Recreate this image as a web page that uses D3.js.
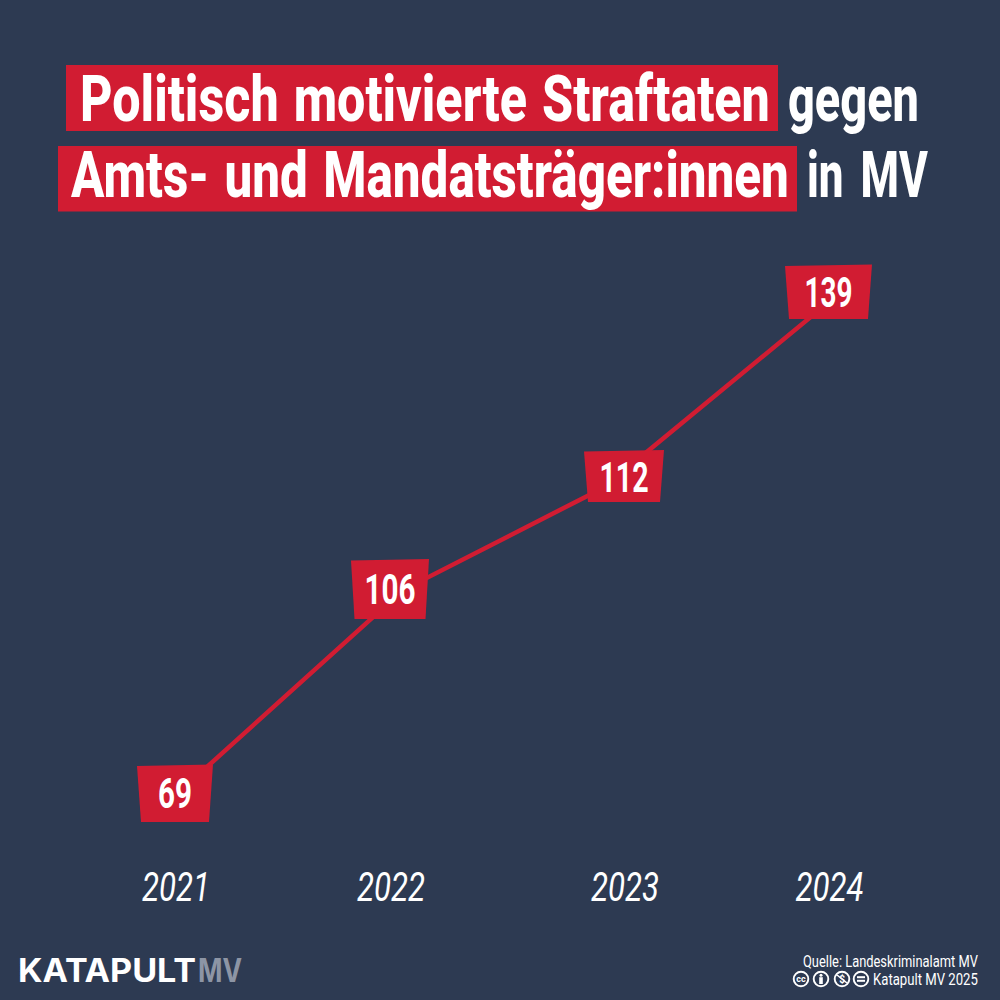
<!DOCTYPE html>
<html><head><meta charset="utf-8">
<script src="https://cdnjs.cloudflare.com/ajax/libs/d3/7.8.5/d3.min.js"></script>
<style>html,body{margin:0;padding:0;background:#2d3a52}svg{display:block}</style>
</head><body>
<svg id="c" width="1000" height="1000"></svg>
<script>
const years = [2021, 2022, 2023, 2024];
const values = [69, 106, 112, 139];
const yearLabels = ["2021", "2022", "2023", "2024"];
const titleHighlight1 = "Politisch motivierte Straftaten";
const titlePlain1 = "gegen";
const titleHighlight2 = "Amts- und Mandatsträger:innen";
const titlePlain2 = "in MV";
const sourceLine = "Quelle: Landeskriminalamt MV";
const creditLine = "Katapult MV 2025";

const BG = "#2d3a52", RED = "#d11c32", W = "#ffffff", F = "Roboto, sans-serif";
const svg = d3.select("#c");
svg.append("rect").attr("width",1000).attr("height",1000).attr("fill",BG);

// The reference spaces everything unevenly, and its labels sit off the line's
// vertices, so the line and the labels each get their own piecewise scales.
const lineX = d3.scaleLinear().domain(years).range([177,403,603,841]);
const lineY = d3.scaleLinear().domain(values).range([794,590,488,292]);
const labelX = d3.scaleLinear().domain(years).range([175,390,624,828.5]);
const labelY = d3.scaleLinear().domain(values).range([794,590,477,292]);

// Squeezes text into x0..x1 with a transform; opt.gap is the word gap on screen.
function fitText(g,str,x0,x1,base,size,opt={}){
  const el = g.append("text").text(str)
    .attr("font-family",opt.family||F).attr("font-size",size)
    .attr("font-weight",opt.weight||700).attr("font-style",opt.style||"normal")
    .attr("fill",opt.fill||W);
  const natural = el.node().getComputedTextLength();
  let sx = (x1-x0)/natural;
  if(opt.gap!==undefined){
    const n = str.split(" ").length-1;
    const probe = g.append("text").text("a a").attr("font-family",opt.family||F).attr("font-size",size).attr("font-weight",opt.weight||700);
    const s = probe.node().getComputedTextLength();
    probe.text("aa");
    const space = s-probe.node().getComputedTextLength();
    probe.remove();
    sx = ((x1-x0)-n*opt.gap)/(natural-n*space);
    el.attr("word-spacing",opt.gap/sx-space);
  }
  el.attr("transform",`translate(${x0},${base}) scale(${sx},1)`);
  return el;
}

// title
const t = svg.append("g");
t.append("rect").attr("x",66).attr("y",65).attr("width",712).attr("height",66).attr("fill",RED);
t.append("rect").attr("x",58).attr("y",146).attr("width",739).attr("height",65.5).attr("fill",RED);
fitText(t,titleHighlight1,80,770,121,65,{weight:800,gap:15});
fitText(t,titlePlain1,788,919,121,65,{weight:800});
fitText(t,titleHighlight2,71,789,197,65,{weight:800,gap:15.5});
fitText(t,titlePlain2,807,928,197,65,{weight:800,gap:17});

// line
const line = d3.line().x((d,i)=>lineX(years[i])).y(d=>lineY(d));
svg.append("path").datum(values).attr("d",line).attr("fill","none").attr("stroke",RED).attr("stroke-width",4.5);

// label boxes
const boxTopHalf = [38,39,40,43.5];
const boxBottomHalf = [34,35.5,36,39.5];
const boxTop = [28,29.5,25.5,26];
const boxBottom = [28,29,25,27];
const digitWidth = [17,17,16.4,16];
const box = svg.append("g").selectAll("g").data(values).join("g")
  .attr("transform",(d,i)=>`translate(${labelX(years[i])},${labelY(d)})`);
box.append("path").attr("fill",RED).attr("d",(d,i)=>{
  const a=boxTopHalf[i], b=boxBottomHalf[i], h=boxTop[i], k=boxBottom[i];
  return `M${-a},${-h} L${a},${-h-1.5} L${b},${k} L${-b},${k} Z`;
});
box.each(function(d,i){
  const w = String(d).length*digitWidth[i];
  fitText(d3.select(this),String(d),-w/2,w/2,i<2?14:15,42,{weight:700});
});

// x labels
const xl = svg.append("g");
yearLabels.forEach((d,i)=>{
  const c = labelX(years[i])+1;
  fitText(xl,d,c-34,c+34,901,41,{style:"italic",weight:400});
});

// brand
const b = svg.append("g");
fitText(b,"KATAPULT",18,196,982,32,{family:"Inter, sans-serif",weight:700});
fitText(b,"MV",198,242,982,32,{family:"Inter, sans-serif",weight:700,fill:"#8d95a5"});

// source
fitText(b,sourceLine,803,978,966.5,16.5,{weight:400});
fitText(b,creditLine,873,978,985,16.5,{weight:400});

// licence icons
const icons = [801,821,842,861];
const ic = b.append("g").selectAll("g").data(icons).join("g").attr("transform",d=>`translate(${d},979)`);
ic.append("circle").attr("r",7.3).attr("fill",BG).attr("stroke",W).attr("stroke-width",1.9);
const ig = ic.filter((d,i)=>i===0);
ig.append("text").text("cc").attr("text-anchor","middle").attr("y",3).attr("fill",W).attr("font-family",F).attr("font-weight",700).attr("font-size",9);
const p = ic.filter((d,i)=>i===1);
p.append("circle").attr("cy",-3.8).attr("r",1.5).attr("fill",W);
p.append("rect").attr("x",-1.8).attr("y",-1.8).attr("width",3.6).attr("height",6.8).attr("fill",W);
const n = ic.filter((d,i)=>i===2);
n.append("line").attr("x1",-5).attr("y1",-4).attr("x2",5).attr("y2",4).attr("stroke",W).attr("stroke-width",1.6);
n.append("text").text("$").attr("text-anchor","middle").attr("y",3.5).attr("fill",W).attr("font-family",F).attr("font-weight",700).attr("font-size",10);
const e = ic.filter((d,i)=>i===3);
e.append("rect").attr("x",-4).attr("y",-2.8).attr("width",8).attr("height",2).attr("fill",W);
e.append("rect").attr("x",-4).attr("y",0.8).attr("width",8).attr("height",2).attr("fill",W);
</script>
</body></html>
